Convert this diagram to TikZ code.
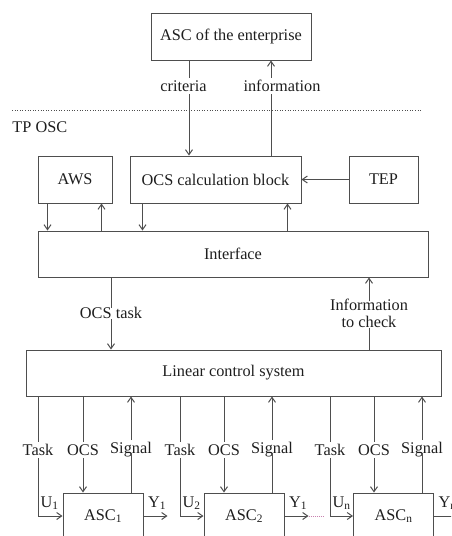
\documentclass[tikz,border=0pt]{standalone}
\usepackage{fontspec}
\setmainfont{Liberation Serif}
\usetikzlibrary{arrows.meta}
\definecolor{linec}{RGB}{78,78,78}
\definecolor{txtc}{RGB}{30,30,30}
\definecolor{linkc}{RGB}{200,130,175}
\tikzset{
  arr/.style={-{Straight Barb[length=5pt,width=7pt]}},
  box/.style={draw=linec, line width=1pt, inner sep=0pt},
  lbl/.style={inner sep=2pt, text=txtc},
}
\begin{document}
\begin{tikzpicture}[x=1pt, y=-1pt, line width=1pt, draw=linec,
    font=\fontsize{16.3}{18.5}\selectfont, text=txtc]
  \useasboundingbox (0,0) rectangle (451,536);
  \clip (0,0) rectangle (451,536);

  % upper level
  \node[box, minimum width=160, minimum height=47] (ent) at (231,36.5) {ASC of the enterprise};
  \node[lbl] (crit) at (183.5,86) {criteria};
  \node[lbl] (info) at (282,86) {information};
  \coordinate (cx) at (189,0);
  \coordinate (ix) at (271,0);

  % boundary of the TP OSC
  \draw[line width=0.8pt, dash pattern=on 1pt off 1.6pt] (12,110) coordinate (dl) -- (422,110) coordinate (dr);
  \node[lbl, anchor=west, inner sep=0pt] (tp) at (12,127) {TP OSC};

  % TP OSC blocks
  \node[box, minimum width=74, minimum height=47] (aws) at (75,179.5) {AWS};
  \node[box, minimum width=171, minimum height=47] (ocs) at (215.5,179.5) {OCS calculation block};
  \node[box, minimum width=69, minimum height=47] (tep) at (383.5,179.5) {TEP};
  \node[box, minimum width=390, minimum height=46] (iface) at (233,254) {Interface};
  \node[box, minimum width=415, minimum height=46] (lcs) at (233.5,373) {Linear control system};

  \node[lbl] (otask) at (111,313) {OCS task};
  \node[lbl, align=center, inner sep=1pt] (ichk) at (369,313.5) {Information\\[-1pt]to check};

  % enterprise <-> calculation block
  \draw (ent.south -| cx) -- (crit.north -| cx);
  \draw[arr] (crit.south -| cx) -- (ocs.north -| cx);
  \draw (ocs.north -| ix) -- (info.south -| ix);
  \draw[arr] (info.north -| ix) -- (ent.south -| ix);

  % TEP -> calculation block
  \draw[arr] (tep.west) -- (ocs.east |- tep.west);

  % blocks <-> interface
  \draw[arr] ([xshift=10]aws.south west) -- ([xshift=10]aws.south west |- iface.north);
  \draw[arr] ([xshift=64]aws.south west |- iface.north) -- ([xshift=64]aws.south west);
  \draw[arr] ([xshift=13]ocs.south west) -- ([xshift=13]ocs.south west |- iface.north);
  \draw[arr] ([xshift=-14]ocs.south east |- iface.north) -- ([xshift=-14]ocs.south east);

  % interface <-> linear control system
  \draw (otask.north |- iface.south) -- ([yshift=-3]otask.north);
  \draw[arr] ([yshift=2]otask.south) -- (otask.south |- lcs.north);
  \draw (ichk.south |- lcs.north) -- ([yshift=2]ichk.south);
  \draw[arr] ([yshift=-4]ichk.north) -- (ichk.north |- iface.south);

  % controlled objects
  \foreach \i/\tx/\ox/\sx/\bx/\sub in {1/38/83/131/103/1, 2/180/224/272/244/2, n/330/374/422/393.5/n}{
    \node[box, minimum width=80, minimum height=46] (asc\i) at (\bx,516) {ASC\textsubscript{\sub}};
    \node[lbl] (task\i) at (\tx,450) {Task};
    \node[lbl] (ocsl\i) at (\ox,450) {OCS};
    \node[lbl] (sig\i) at (\sx,450) {Signal};
    \draw (task\i.north |- lcs.south) -- (task\i.north);
    \draw[arr] (task\i.south) |- (asc\i.west);
    \draw (ocsl\i.north |- lcs.south) -- (ocsl\i.north);
    \draw[arr] (ocsl\i.south) -- (ocsl\i.south |- asc\i.north);
    \draw[arr] (sig\i.north) -- (sig\i.north |- lcs.south);
    \draw (sig\i.south |- asc\i.north) -- ([yshift=7]sig\i.south);
    \draw[arr] (asc\i.east) -- ++(24,0) coordinate (out\i);
    \node[lbl, anchor=west, inner sep=0pt] (u\i) at ([xshift=2]task\i.south |- 0,503) {U\textsubscript{\sub}};
  }
  \node[lbl, anchor=west, inner sep=0pt] (y1) at ([xshift=4]asc1.north east |- 0,503) {Y\textsubscript{1}};
  \node[lbl, anchor=west, inner sep=0pt] (y2) at ([xshift=4]asc2.north east |- 0,503) {Y\textsubscript{1}};
  \node[lbl, anchor=west, inner sep=0pt] (yn) at ([xshift=4]ascn.north east |- 0,503) {Y\textsubscript{n}};
  \draw[linkc, line width=0.9pt, dash pattern=on 1pt off 1pt] (out2) -- ++(15,0);
\end{tikzpicture}
\end{document}
